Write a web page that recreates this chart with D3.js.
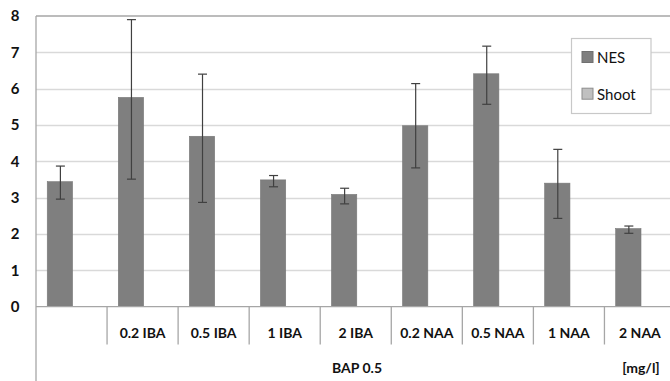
<!DOCTYPE html>
<html>
<head>
<meta charset="utf-8">
<script src="https://cdn.jsdelivr.net/npm/d3@7"></script>
<style>
  body { margin: 0; background: #fff; }
  svg { display: block; }
  text { font-family: Lato, "Open Sans", sans-serif; fill: #111; }
</style>
</head>
<body>
<div id="chart"></div>
<script>
// categories along the x axis (first one is the control, no label)
const categories = ["", "0.2 IBA", "0.5 IBA", "1 IBA", "2 IBA", "0.2 NAA", "0.5 NAA", "1 NAA", "2 NAA"];
const series = ["NES", "Shoot"];
// NES mean values and error bar ends
const nesValues = [3.44, 5.76, 4.69, 3.49, 3.09, 4.98, 6.41, 3.40, 2.15];
const nesErrTop = [3.87, 7.90, 6.40, 3.61, 3.26, 6.14, 7.17, 4.33, 2.22];
const nesErrBottom = [2.96, 3.51, 2.87, 3.30, 2.83, 3.82, 5.57, 2.43, 2.02];
const yTicks = [0, 1, 2, 3, 4, 5, 6, 7, 8];
const groupLabel = "BAP 0.5";
const unitLabel = "[mg/l]";

const width = 670, height = 381;
const margin = { top: 16, left: 36, bottom: 74.3 };
const plotRight = 675.5; // plot area runs a little past the picture edge

const data = categories.map((c, i) => ({
  label: c, value: nesValues[i], hi: nesErrTop[i], lo: nesErrBottom[i]
}));

const svg = d3.select("#chart").append("svg")
  .attr("width", width)
  .attr("height", height);

// x scale: one band per category, inner band per series
const x = d3.scaleBand()
  .domain(categories.map((c, i) => i))
  .range([margin.left, plotRight])
  .padding(0);

const x1 = d3.scaleBand()
  .domain(series)
  .range([0, x.bandwidth()])
  .paddingInner(0)
  .paddingOuter(0.404)
  .align(0.55);

const y = d3.scaleLinear()
  .domain([0, 8])
  .range([height - margin.bottom, margin.top]);

// gridlines
svg.append("g")
  .selectAll("line")
  .data(yTicks.filter(t => t > 0 && t < 8))
  .join("line")
  .attr("x1", margin.left)
  .attr("x2", width)
  .attr("y1", d => Math.round(y(d)) + 0.5)
  .attr("y2", d => Math.round(y(d)) + 0.5)
  .attr("stroke", "#d9d9d9")
  .attr("stroke-width", 1.3);

// top border
svg.append("line")
  .attr("x1", margin.left).attr("x2", width)
  .attr("y1", y(8)).attr("y2", y(8))
  .attr("stroke", "#a6a6a6").attr("stroke-width", 1.3);

// bars
svg.append("g")
  .selectAll("rect")
  .data(data)
  .join("rect")
  .attr("x", (d, i) => x(i) + x1("NES"))
  .attr("y", d => y(d.value))
  .attr("width", x1.bandwidth())
  .attr("height", d => y(0) - y(d.value))
  .attr("fill", "#7f7f7f")
  .attr("stroke", "#777")
  .attr("stroke-width", 0.6);

// error bars
const err = svg.append("g")
  .attr("stroke", "#404040")
  .attr("stroke-width", 1.2);
const cx = i => x(i) + x1("NES") + x1.bandwidth() / 2 + 0.5;
err.selectAll(".v").data(data).join("line")
  .attr("x1", (d, i) => cx(i)).attr("x2", (d, i) => cx(i))
  .attr("y1", d => y(d.hi)).attr("y2", d => y(d.lo));
err.selectAll(".t").data(data).join("line")
  .attr("x1", (d, i) => cx(i) - 4.5).attr("x2", (d, i) => cx(i) + 4.5)
  .attr("y1", d => y(d.hi)).attr("y2", d => y(d.hi));
err.selectAll(".b").data(data).join("line")
  .attr("x1", (d, i) => cx(i) - 4.5).attr("x2", (d, i) => cx(i) + 4.5)
  .attr("y1", d => y(d.lo)).attr("y2", d => y(d.lo));

// y axis labels
svg.append("g")
  .selectAll("text")
  .data(yTicks)
  .join("text")
  .attr("x", 19.5)
  .attr("y", d => y(d))
  .attr("dy", "0.36em")
  .attr("text-anchor", "end")
  .attr("font-size", 15)
  .attr("font-weight", "bold")
  .text(d => d);

// axis lines
const axisColor = "#a6a6a6";
svg.append("line")
  .attr("x1", margin.left).attr("x2", margin.left)
  .attr("y1", margin.top).attr("y2", height)
  .attr("stroke", axisColor).attr("stroke-width", 1.3);
svg.append("line")
  .attr("x1", margin.left).attr("x2", plotRight)
  .attr("y1", y(0)).attr("y2", y(0))
  .attr("stroke", axisColor).attr("stroke-width", 1.3);

// category dividers
svg.append("g")
  .selectAll("line")
  .data(categories.slice(1).map((c, i) => i + 1))
  .join("line")
  .attr("x1", d => x(d)).attr("x2", d => x(d))
  .attr("y1", y(0)).attr("y2", 344.5)
  .attr("stroke", axisColor).attr("stroke-width", 1.3);

// category labels
svg.append("g")
  .selectAll("text")
  .data(data)
  .join("text")
  .attr("x", (d, i) => x(i) + x.bandwidth() / 2)
  .attr("y", 337.5)
  .attr("text-anchor", "middle")
  .attr("font-size", 14)
  .attr("font-weight", "bold")
  .text(d => d.label);

svg.append("text")
  .attr("x", 357).attr("y", 372.5)
  .attr("text-anchor", "middle")
  .attr("font-size", 14)
  .attr("font-weight", "bold")
  .text(groupLabel);

svg.append("text")
  .attr("x", 641).attr("y", 372.5)
  .attr("text-anchor", "middle")
  .attr("font-size", 14)
  .attr("font-weight", "bold")
  .text(unitLabel);

// legend
const legend = svg.append("g");
legend.append("rect")
  .attr("x", 571.5).attr("y", 38.5)
  .attr("width", 79.5).attr("height", 75)
  .attr("fill", "#fff")
  .attr("stroke", "#c8c8c8").attr("stroke-width", 1.2);
const swatchFill = { NES: "#7f7f7f", Shoot: "#c0c0c0" };
const swatchStroke = { NES: "#707070", Shoot: "#8c8c8c" };
series.forEach((s, i) => {
  const yy = 51.5 + i * 36.7;
  legend.append("rect")
    .attr("x", 582).attr("y", yy)
    .attr("width", 11).attr("height", 11)
    .attr("fill", swatchFill[s])
    .attr("stroke", swatchStroke[s]).attr("stroke-width", 1);
  legend.append("text")
    .attr("x", 597).attr("y", yy + 11.5)
    .attr("font-size", 15)
    .text(s);
});
</script>
</body>
</html>
